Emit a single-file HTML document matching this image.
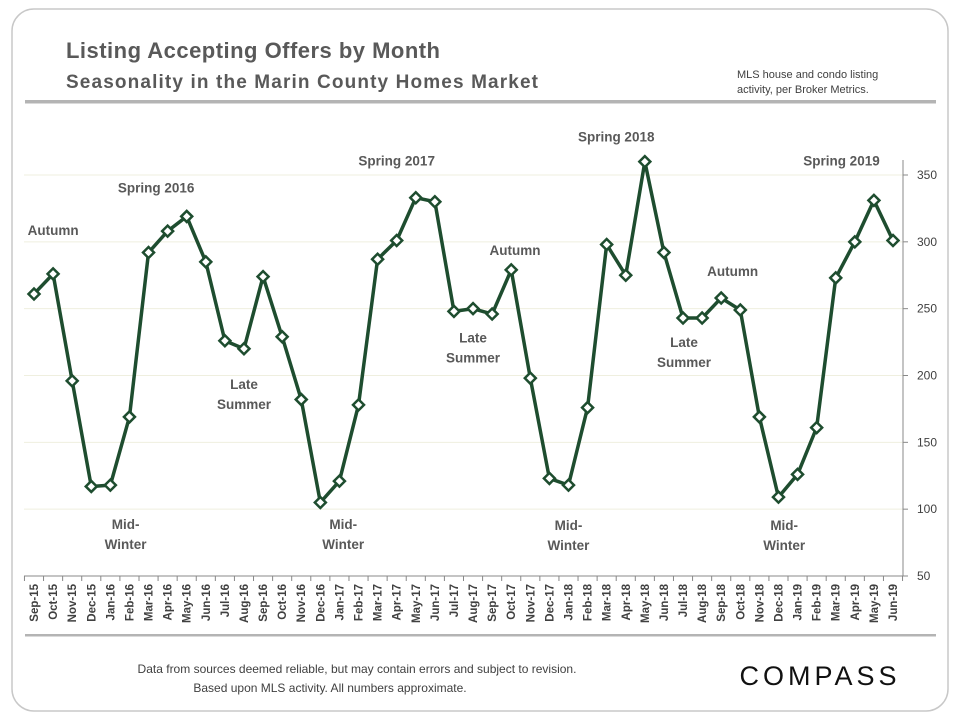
<!DOCTYPE html>
<html><head><meta charset="utf-8"><style>
body{margin:0;width:960px;height:720px;background:#fff;font-family:"Liberation Sans",sans-serif;overflow:hidden}
</style></head><body>
<svg width="960" height="720" xmlns="http://www.w3.org/2000/svg" font-family="Liberation Sans, sans-serif">
<rect x="12" y="9" width="936" height="702" rx="22" fill="#fff" stroke="#c8c8c8" stroke-width="1.5"/>
<text x="66" y="58" font-size="22" font-weight="bold" fill="#595959" textLength="374">Listing Accepting Offers by Month</text>
<text x="66" y="88" font-size="19" font-weight="bold" fill="#595959" textLength="472">Seasonality in the Marin County Homes Market</text>
<text x="737" y="78" font-size="11" fill="#404040">MLS house and condo listing</text>
<text x="737" y="93" font-size="11" fill="#404040">activity, per Broker Metrics.</text>
<rect x="25" y="100" width="911" height="3.5" fill="#b4b4b4"/>
<rect x="25" y="634" width="911" height="2.5" fill="#b4b4b4"/>
<text x="357" y="673" font-size="12" fill="#404040" text-anchor="middle">Data from sources deemed reliable, but may contain errors and subject to revision.</text>
<text x="330" y="692" font-size="12" fill="#404040" text-anchor="middle">Based upon MLS activity. All numbers approximate.</text>
<text x="820" y="685" font-size="27" fill="#111" text-anchor="middle" letter-spacing="4">COMPASS</text>
<g id="plot"></g>
</svg>
<script>
const categories=["Sep-15","Oct-15","Nov-15","Dec-15","Jan-16","Feb-16","Mar-16","Apr-16","May-16","Jun-16","Jul-16","Aug-16","Sep-16","Oct-16","Nov-16","Dec-16","Jan-17","Feb-17","Mar-17","Apr-17","May-17","Jun-17","Jul-17","Aug-17","Sep-17","Oct-17","Nov-17","Dec-17","Jan-18","Feb-18","Mar-18","Apr-18","May-18","Jun-18","Jul-18","Aug-18","Sep-18","Oct-18","Nov-18","Dec-18","Jan-19","Feb-19","Mar-19","Apr-19","May-19","Jun-19"];
const values=[261,276,196,117,118,169,292,308,319,285,226,220,274,229,182,105,121,178,287,301,333,330,248,250,246,279,198,123,118,176,298,275,360,292,243,243,258,249,169,109,126,161,273,300,331,301];
const yTicks=[50,100,150,200,250,300,350];
// [label, x position (category index), anchor point index, vertical offset]
const annotations=[["Autumn",1,1,-39],["Spring 2016",6.4,8,-24],["Late|Summer",11,11,40],["Mid-|Winter",4.8,4,44],["Spring 2017",19,20,-32],["Mid-|Winter",16.2,16,48],["Late|Summer",23,23,34],["Autumn",25.2,25,-15],["Spring 2018",30.5,32,-20],["Mid-|Winter",28,28,45],["Late|Summer",34.05,34,29],["Autumn",36.6,36,-22],["Spring 2019",42.3,44,-35],["Mid-|Winter",39.3,39,33]];
const NS="http://www.w3.org/2000/svg";
const g=document.getElementById('plot');
const x0=34,x1=893,yTop=175,yBot=576,vMin=50,vMax=350;
const xs=i=>x0+i*(x1-x0)/(categories.length-1);
const ys=v=>yBot-(v-vMin)*(yBot-yTop)/(vMax-vMin);
function mk(t,a){const e=document.createElementNS(NS,t);for(const k in a)e.setAttribute(k,a[k]);g.appendChild(e);return e;}
yTicks.forEach(v=>{
 if(v>vMin){const l=mk('line',{x1:24,x2:903,y1:ys(v),y2:ys(v),stroke:'#efefdf','stroke-width':1});
 
 }
 const tk=mk('line',{x1:903,x2:908,y1:ys(v),y2:ys(v),stroke:'#888'});
 
 
 const t=mk('text',{x:917,y:ys(v)+4,'font-size':12,fill:'#404040'});t.textContent=v;
 
 
});
const ya=mk('line',{x1:903,x2:903,y1:160,y2:yBot,stroke:'#888'});


const xa=mk('line',{x1:24,x2:903,y1:yBot,y2:yBot,stroke:'#888'});


const step=(x1-x0)/(categories.length-1);
for(let i=0;i<=categories.length;i++){const tx=x0-step/2+i*step;
 const t=mk('line',{x1:tx,x2:tx,y1:yBot,y2:yBot+5,stroke:'#888'});
 
 }
categories.forEach((c,i)=>{
 const t=mk('text',{x:0,y:0,'font-size':11.5,'font-weight':'bold',fill:'#404040','text-anchor':'end',transform:`translate(${xs(i)+4},${yBot+8}) rotate(-90)`});
 t.textContent=c;
 
 
});
const p=mk('polyline',{points:values.map((v,i)=>xs(i)+','+ys(v)).join(' '),fill:'none',stroke:'#1e4d2f','stroke-width':3.5,'stroke-linejoin':'round'});


values.forEach((v,i)=>{const cx=xs(i),cy=ys(v),r=5.5;
 const m=mk('polygon',{points:`${cx},${cy-r} ${cx+r},${cy} ${cx},${cy+r} ${cx-r},${cy}`,fill:'#fff',stroke:'#1e4d2f','stroke-width':2.5});
 
 
});
annotations.forEach(a=>{
 const lines=a[0].split('|');const cx=xs(a[1]);const cy=ys(values[a[2]])+a[3];
 lines.forEach((ln,k)=>{
  const t=mk('text',{x:cx,y:cy+k*20,'font-size':13.5,'font-weight':'bold',fill:'#595959','text-anchor':'middle'});
  t.textContent=ln;
  
  
 });
});
</script>
</body></html>
